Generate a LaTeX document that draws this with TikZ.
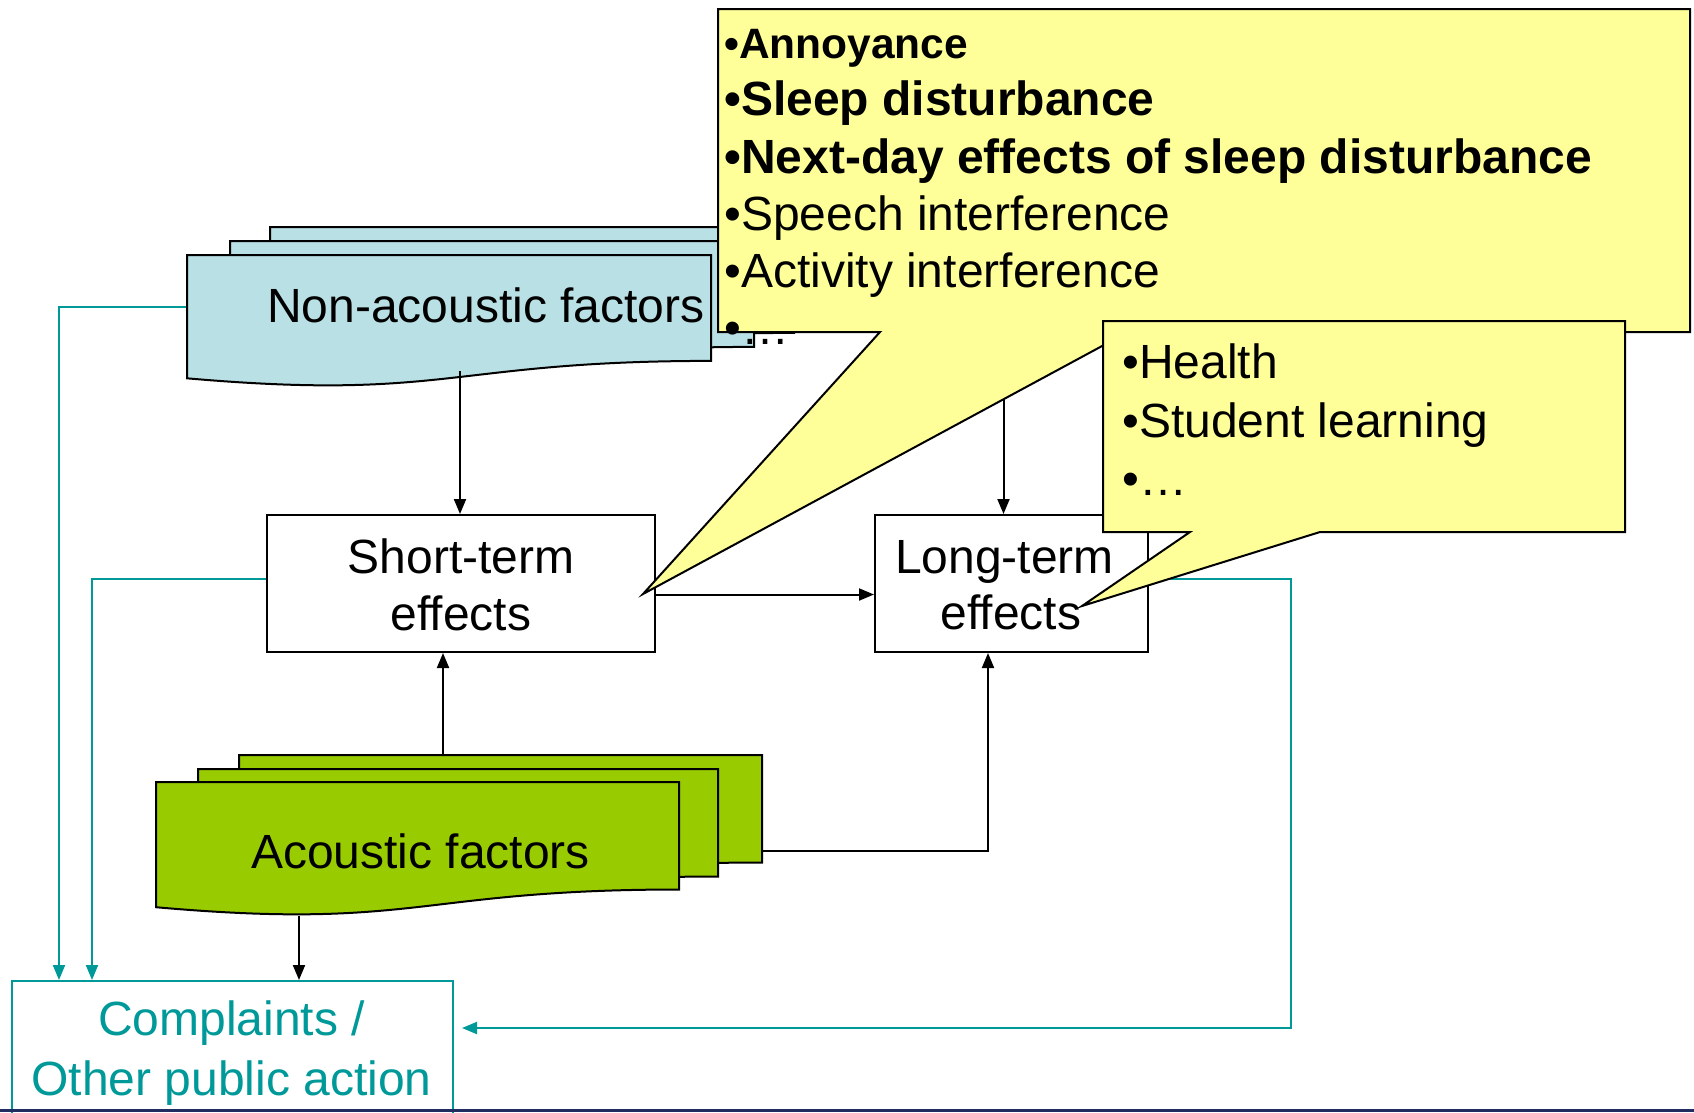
\documentclass[tikz,border=0pt]{standalone}
\usepackage{fontspec}
\setmainfont{Liberation Sans}
\usetikzlibrary{arrows.meta,calc}
\definecolor{sheetblue}{RGB}{185,224,228}
\definecolor{sheetgreen}{RGB}{153,204,0}
\definecolor{calloutyellow}{RGB}{255,255,153}
\definecolor{tealc}{RGB}{0,153,153}
\definecolor{navyc}{RGB}{31,45,96}
\newcommand\diagfont{\fontsize{48pt}{57pt}\selectfont}
\newcommand\smallerfont{\fontsize{42.5pt}{50pt}\selectfont}
\begin{document}
\begin{tikzpicture}[x=1pt,y=-1pt,
  sheet/.style={draw=black, line width=2pt, line join=miter},
  effbox/.style={draw=black, line width=2pt, fill=white, inner sep=0pt, minimum height=137pt},
  compbox/.style={draw=tealc, line width=2pt, fill=white, inner sep=0pt, anchor=north west},
  conn/.style={draw=black, line width=2pt, -{Triangle[length=15pt,width=12pt]}},
  tconn/.style={draw=tealc, line width=2pt, -{Triangle[length=15pt,width=12pt]}},
  callout/.style={draw=black, line width=2pt, fill=calloutyellow, line join=miter},
  txt/.style={inner sep=0pt, anchor=base, font=\diagfont},
  ltxt/.style={inner sep=0pt, anchor=base west, font=\diagfont},
]
\useasboundingbox (0,0) rectangle (1694,1112);

% connection points on the stacked sheets
\coordinate (naR) at (711,307);
\coordinate (naL) at (187,307);
\coordinate (naB) at (460,371);
\coordinate (acT) at (443,755);
\coordinate (acR) at (762,851);
\coordinate (acB) at (299,916);
\coordinate (cR) at (1291,1028);

% boxes (needed for connector anchors)
\node[effbox, minimum width=388pt] (st) at (461,583.5) {};
\node[effbox, minimum width=273pt] (lt) at (1011.5,583.5) {};
\node[compbox, minimum width=441pt, minimum height=170pt] (comp) at (11,980) {};

% hidden connector behind sheets and callout
\draw[conn] (naR) -| ([xshift=-8pt]lt.north);

% teal connectors
\draw[tconn] (naL) -| ([xshift=48pt]comp.north west);
\draw[tconn] ([yshift=4.5pt]st.west) -| ([xshift=81pt]comp.north west);
\draw[tconn, shorten >=8pt] ([yshift=4.5pt]lt.east) -| (cR) -- (cR -| comp.east);

% non-acoustic stack
\path[sheet, fill=sheetblue] (270,227) -- (794,227) -- (794,332.9) .. controls (532,332.9) and (532,373.2) .. (270,350.3) -- cycle;
\path[sheet, fill=sheetblue] (230,241) -- (754,241) -- (754,346.9) .. controls (492,346.9) and (492,387.2) .. (230,364.3) -- cycle;
\path[sheet, fill=sheetblue] (187,255) -- (711,255) -- (711,360.9) .. controls (449,360.9) and (449,401.2) .. (187,378.3) -- cycle;
\node[ltxt] (na) at (267,322) {Non-acoustic factors};

% acoustic stack
\path[sheet, fill=sheetgreen] (239,755) -- (762,755) -- (762,862.5) .. controls (500.5,862.5) and (500.5,903.4) .. (239,880.2) -- cycle;
\path[sheet, fill=sheetgreen] (198,769) -- (718,769) -- (718,876.5) .. controls (458,876.5) and (458,917.4) .. (198,894.2) -- cycle;
\path[sheet, fill=sheetgreen] (156,782) -- (679,782) -- (679,889.5) .. controls (417.5,889.5) and (417.5,930.4) .. (156,907.2) -- cycle;
\node[ltxt] (ac) at (251,868) {Acoustic factors};

% redraw boxes on top
\node[effbox, minimum width=388pt] (st2) at (461,583.5) {};
\node[effbox, minimum width=273pt] (lt2) at (1011.5,583.5) {};
\node[txt] (st1) at (461,573) {Short-term};
\node[txt] (stb) at (461,630) {effects};
\node[txt] (lt1) at (1004.5,573) {Long-term};
\node[txt] (ltb) at (1011,629) {effects};
\node[txt, text=tealc] (cp1) at (231.5,1035) {Complaints /};
\node[txt, text=tealc] (cp2) at (231.5,1095) {Other public action};

% black connectors
\draw[conn] (naB) -- (naB |- st.north);
\draw[conn] ([yshift=-11pt]st.east) -- ([yshift=-11pt]lt.west);
\draw[conn] (acT) -- (acT |- st.south);
\draw[conn] (acR) -| ([xshift=-23.5pt]lt.south);
\draw[conn] (acB) -- (acB |- comp.north);

% callout 1 (short-term effects)
\path[callout] (718,9) -- (1690,9) -- (1690,332) -- (1128,332) -- (643,594) -- (880,332) -- (718,332) -- cycle;
% callout 2 (long-term effects)
\path[callout] (1103,321) -- (1625,321) -- (1625,532) -- (1320,532) -- (1082,606) -- (1190,532) -- (1103,532) -- cycle;

% callout texts
\node[ltxt, font=\smallerfont\bfseries] (c1a) at (724,58) {•Annoyance};
\node[ltxt, font=\diagfont\bfseries] (c1b) at (724,115) {•Sleep disturbance};
\node[ltxt, font=\diagfont\bfseries] (c1c) at (724,173) {•Next-day effects of sleep disturbance};
\node[ltxt] (c1d) at (724,230) {•Speech interference};
\node[ltxt] (c1e) at (724,287) {•Activity interference};
\node[ltxt] (c1f) at (724,344) {•…};

\node[ltxt] (c2a) at (1122,378) {•Health};
\node[ltxt] (c2b) at (1122,437) {•Student learning};
\node[ltxt] (c2c) at (1122,495) {•…};

% slide footer rule
\draw[navyc, line width=3pt] (0,1110) -- (1694,1110);
\end{tikzpicture}
\end{document}
